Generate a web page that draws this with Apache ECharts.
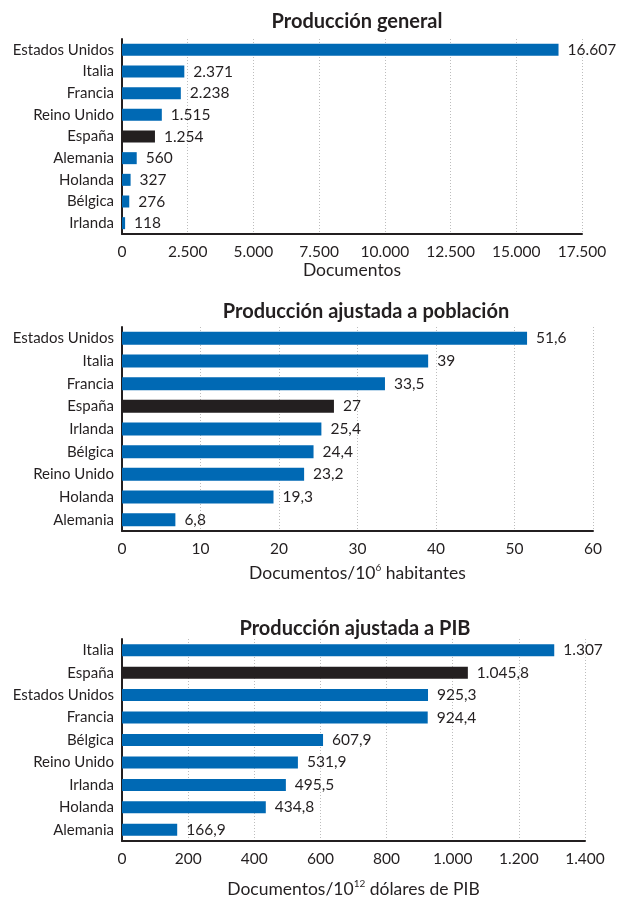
<!DOCTYPE html>
<html>
<head>
<meta charset="utf-8">
<script src="https://cdn.jsdelivr.net/npm/echarts@6/dist/echarts.min.js"></script>
<style>
  html, body { margin: 0; padding: 0; background: #fff; }
  #chart { width: 618px; height: 899px; }
</style>
</head>
<body>
<div id="chart"></div>
<script>
// Producción general (documentos)
const catGeneral = ['Estados Unidos', 'Italia', 'Francia', 'Reino Unido', 'España', 'Alemania', 'Holanda', 'Bélgica', 'Irlanda'];
const valGeneral = [16607, 2371, 2238, 1515, 1254, 560, 327, 276, 118];

// Producción ajustada a población (documentos / 10^6 habitantes)
const catPoblacion = ['Estados Unidos', 'Italia', 'Francia', 'España', 'Irlanda', 'Bélgica', 'Reino Unido', 'Holanda', 'Alemania'];
const valPoblacion = [51.6, 39, 33.5, 27, 25.4, 24.4, 23.2, 19.3, 6.8];

// Producción ajustada a PIB (documentos / 10^12 dólares)
const catPib = ['Italia', 'España', 'Estados Unidos', 'Francia', 'Bélgica', 'Reino Unido', 'Irlanda', 'Holanda', 'Alemania'];
const valPib = [1307, 1045.8, 925.3, 924.4, 607.9, 531.9, 495.5, 434.8, 166.9];

const titles = ['Producción general', 'Producción ajustada a población', 'Producción ajustada a PIB'];

const BLUE = '#0069b4';
const DARK = '#231f20';
const FONT = 'Lato';

// Spanish number format: "." for thousands, "," for decimals
function fmtEs(v) {
  const parts = String(v).split('.');
  const intPart = parts[0].replace(/\B(?=(\d{3})+(?!\d))/g, '.');
  return parts.length > 1 ? intPart + ',' + parts[1] : intPart;
}

const grids = [
  { left: 122, top: 39, width: 460, height: 195 },
  { left: 122, top: 327, width: 471, height: 204 },
  { left: 122, top: 639, width: 463, height: 203 }
];

const xSpec = [
  { max: 17500, interval: 2500, name: 'Documentos', nameGap: 26 },
  { max: 60, interval: 10, name: '{a|Documentos/10}{s|6}{a| habitantes}', nameGap: 32 },
  { max: 1400, interval: 200, name: '{a|Documentos/10}{s|12}{a| dólares de PIB}', nameGap: 38 }
];

const cats = [catGeneral, catPoblacion, catPib];
const vals = [valGeneral, valPoblacion, valPib];
const barW = [12, 13, 12];

const chart = echarts.init(document.getElementById('chart'), null, { renderer: 'canvas' });

const option = {
  backgroundColor: '#ffffff',
  animation: false,
  textStyle: { fontFamily: FONT, color: DARK },
  title: [
    { text: titles[0], left: 352, top: 7 },
    { text: titles[1], left: 361, top: 297 },
    { text: titles[2], left: 350, top: 614 }
  ].map(t => Object.assign(t, {
    textAlign: 'center',
    textStyle: { fontFamily: FONT, fontWeight: 'bold', fontSize: 20, color: DARK }
  })),
  grid: grids,
  xAxis: xSpec.map((s, i) => ({
    type: 'value',
    gridIndex: i,
    min: 0,
    max: s.max,
    interval: s.interval,
    name: s.name,
    nameLocation: 'middle',
    nameGap: s.nameGap,
    nameTextStyle: {
      fontFamily: FONT, fontSize: 17.5, color: DARK,
      rich: {
        a: { fontFamily: FONT, fontSize: 17.5, color: DARK, lineHeight: 20 },
        s: { fontFamily: FONT, fontSize: 10, color: DARK, lineHeight: 11, verticalAlign: 'top' }
      }
    },
    axisLine: { show: true, lineStyle: { color: DARK, width: 2 } },
    axisTick: { show: false },
    axisLabel: { fontFamily: FONT, fontSize: 15.5, color: DARK, margin: 10, formatter: v => fmtEs(v) },
    splitLine: { show: true, lineStyle: { color: '#bdbdbd', type: [1, 2], width: 1 } }
  })),
  yAxis: cats.map((c, i) => ({
    type: 'category',
    gridIndex: i,
    data: c,
    inverse: true,
    axisLine: { show: true, onZero: false, lineStyle: { color: DARK, width: 2 } },
    axisTick: { show: false },
    axisLabel: { fontFamily: FONT, fontSize: 15, color: DARK, margin: 8 },
    splitLine: { show: false }
  })),
  series: vals.map((v, i) => ({
    type: 'bar',
    xAxisIndex: i,
    yAxisIndex: i,
    data: v,
    barWidth: barW[i],
    itemStyle: {
      color: p => (cats[i][p.dataIndex] === 'España' ? DARK : BLUE)
    },
    label: {
      show: true,
      position: 'right',
      distance: 9,
      fontFamily: FONT,
      fontSize: 15.5,
      color: DARK,
      formatter: p => fmtEs(p.value)
    }
  }))
};

chart.setOption(option);
</script>
</body>
</html>
